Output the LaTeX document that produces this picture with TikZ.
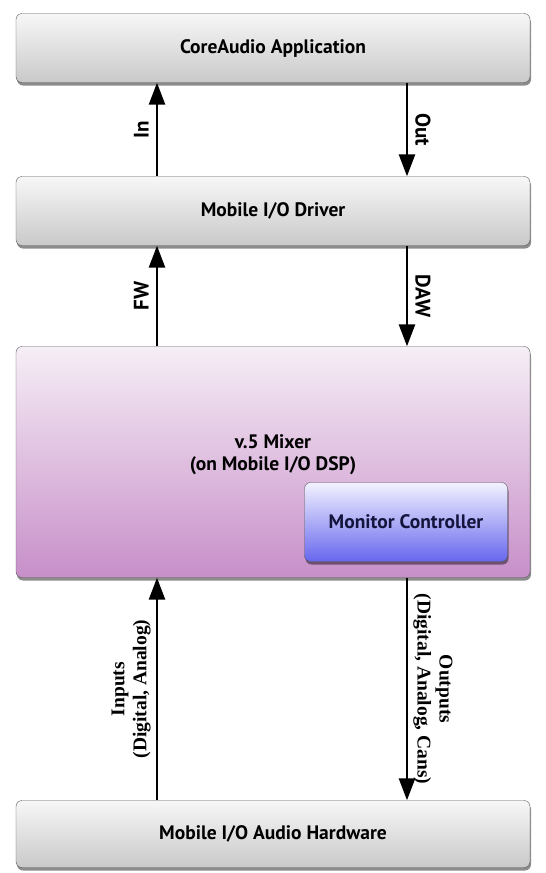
\documentclass[tikz,border=0pt]{standalone}
\usepackage{fontspec}
\setmainfont{Liberation Serif}
\setsansfont{PT Sans}
\usepackage{tikz}
\usetikzlibrary{arrows.meta}
\usetikzlibrary{shadows}
\definecolor{greytop}{HTML}{F7F7F7}
\definecolor{greybot}{HTML}{C9C9C9}
\definecolor{mixtop}{HTML}{F6EEF6}
\definecolor{mixbot}{HTML}{C78FC9}
\definecolor{montop}{HTML}{F2F2FF}
\definecolor{monbot}{HTML}{6767EE}
\definecolor{montext}{HTML}{14143C}
\tikzset{
    blk/.style = {align=center, inner sep=0pt, rounded corners=6pt, draw=black!65, thin,
                  font=\sffamily\bfseries\fontsize{19.5}{22}\selectfont,
                  drop shadow={shadow xshift=1pt, shadow yshift=-3pt, opacity=0.45, fill=black}},
    grey_blk/.style = {blk, top color=greytop, bottom color=greybot, minimum width=514pt, minimum height=69pt},
    mix_blk/.style = {blk, top color=mixtop, bottom color=mixbot, minimum width=514pt, minimum height=231pt},
    mon_blk/.style = {blk, top color=montop, bottom color=monbot, text=montext, minimum width=203pt, minimum height=79pt},
    flow/.style = {line width=2.6pt, -{Triangle[width=16pt,length=22pt]}},
    tag/.style = {anchor=south, inner sep=7pt, align=center, font=\sffamily\bfseries\fontsize{21}{22}\selectfont},
    up_tag/.style = {tag, rotate=90},
    down_tag/.style = {tag, rotate=-90},
    serif_tag/.style = {inner sep=5pt, font=\rmfamily\bfseries\fontsize{19.5}{22}\selectfont}
}
\begin{document}
\begin{tikzpicture}[x=1pt, y=-1pt]
    \useasboundingbox (0,0) rectangle (546,873);
    % boxes
    \node [grey_blk] (app) at (273,48) {CoreAudio Application};
    \node [grey_blk] (drv) at (273,211) {Mobile I/O Driver};
    \node [mix_blk] (mix) at (273,462) {};
    \node [align=center, font=\sffamily\bfseries\fontsize{19.5}{22}\selectfont] (mixtext) at (273,455) {v.5 Mixer\\(on Mobile I/O DSP)};
    \node [mon_blk] (mon) at (406,522) {Monitor Controller};
    \node [grey_blk, minimum height=67pt] (hw) at (273,834) {Mobile I/O Audio Hardware};
    % signal paths
    \coordinate (lx) at (157,0);
    \coordinate (rx) at (407,0);
    \draw [flow] (drv.north -| lx) -- node [up_tag] {In} (app.south -| lx);
    \draw [flow] (app.south -| rx) -- node [down_tag] {Out} (drv.north -| rx);
    \draw [flow] (mix.north -| lx) -- node [up_tag] {FW} (drv.south -| lx);
    \draw [flow] (drv.south -| rx) -- node [down_tag] {DAW} (mix.north -| rx);
    \draw [flow] (hw.north -| lx) -- node [up_tag, serif_tag] {Inputs\\(Digital, Analog)} (mix.south -| lx);
    \draw [flow] (mix.south -| rx) -- node [down_tag, serif_tag] {Outputs\\(Digital, Analog, Cans)} (hw.north -| rx);
\end{tikzpicture}
\end{document}
